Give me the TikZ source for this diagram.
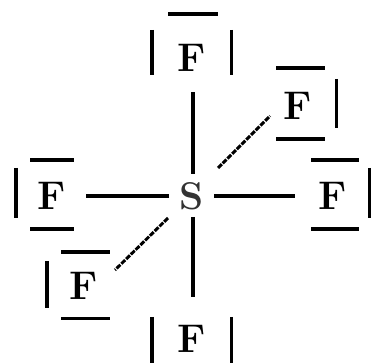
\documentclass[tikz,border=0pt]{standalone}
\usepackage{xcolor}
\usepackage{tikz}
\usetikzlibrary{positioning}

\tikzset{
  atomlabel/.style={inner sep=0pt, font=\fontsize{30}{30}\selectfont\bfseries},
  centerlabel/.style={inner sep=0pt, font=\fontsize{29}{29}\selectfont\bfseries, text=black!80},
  pairbar/.style={line width=2.4pt},
  bondline/.style={line width=2.6pt},
  wedgeline/.style={line width=2.2pt, dash pattern=on 4pt off 1pt}
}

\begin{document}
\begin{tikzpicture}[x=0.75pt, y=-0.75pt]

\useasboundingbox (0,0) rectangle (372,363);

% Atomos
\node[centerlabel] (S) at (192,196) {S};
\node[atomlabel] (Ftop) at (191.5,58) {F};
\node[atomlabel] (Fback) at (298,106) {F};
\node[atomlabel] (Fright) at (332.5,195.5) {F};
\node[atomlabel] (Fleft) at (52,195.5) {F};
\node[atomlabel] (Ffront) at (84,285.5) {F};
\node[atomlabel] (Fbottom) at (191.5,339) {F};

% Extremos libres de los enlaces
\coordinate (ctop) at (193,92);
\coordinate (cback) at (270,116);
\coordinate (cright) at (295,196);
\coordinate (cleft) at (86,196);
\coordinate (cfront) at (115,270);
\coordinate (cbottom) at (193,297);
\coordinate (stop) at (193,174);
\coordinate (sback) at (218,168);
\coordinate (sright) at (214,196);
\coordinate (sleft) at (169,196);
\coordinate (sfront) at (168,218);
\coordinate (sbottom) at (193,217);

% Enlaces
\draw[bondline] (stop) -- (ctop);
\draw[bondline] (sright) -- (cright);
\draw[bondline] (sleft) -- (cleft);
\draw[bondline] (sbottom) -- (cbottom);
\draw[wedgeline] (sback) -- (cback);
\draw[wedgeline] (sfront) -- (cfront);

% Pares libres
\draw[pairbar] (152,30) -- (152,75);
\draw[pairbar] (231.5,30) -- (231.5,75);
\draw[pairbar] (168,14) -- (218,14);

\draw[pairbar] (276,68) -- (325,68);
\draw[pairbar] (276,139) -- (325,139);
\draw[pairbar] (336.5,79) -- (336.5,128);

\draw[pairbar] (311,160) -- (359,160);
\draw[pairbar] (311,229) -- (359,229);
\draw[pairbar] (369.5,168) -- (369.5,218);

\draw[pairbar] (30,160) -- (74,160);
\draw[pairbar] (30,229) -- (74,229);
\draw[pairbar] (16,168) -- (16,218);

\draw[pairbar] (61,252) -- (110,252);
\draw[pairbar] (61,318.5) -- (110,318.5);
\draw[pairbar] (47,261) -- (47,308);

\draw[pairbar] (152,317) -- (152,363);
\draw[pairbar] (231.5,317) -- (231.5,363);

\end{tikzpicture}
\end{document}
